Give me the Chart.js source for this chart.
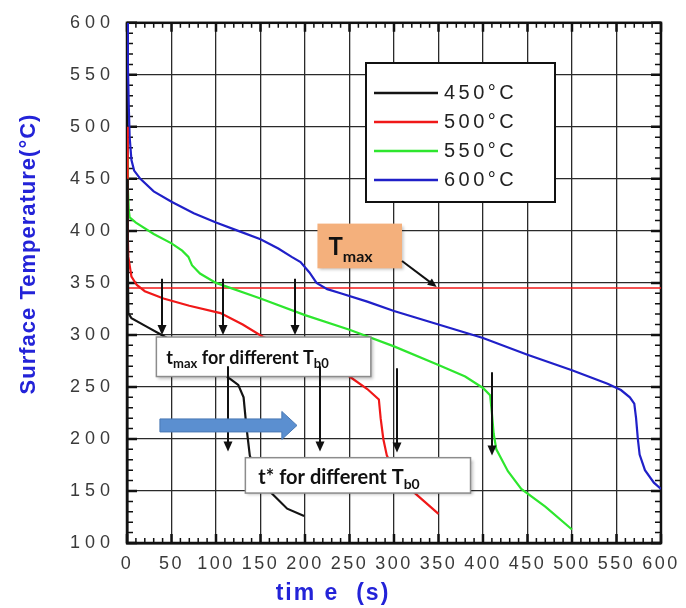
<!DOCTYPE html>
<html>
<head>
<meta charset="utf-8">
<script src="https://cdn.jsdelivr.net/npm/chart.js@4.4.1/dist/chart.umd.min.js"></script>
<style>
  html,body{margin:0;padding:0;background:#fff;}
  canvas{display:block;}
</style>
</head>
<body>
<canvas id="c" width="686" height="608"></canvas>
<script>
// series labels / colours
const SERIES = ['450°C', '500°C', '550°C', '600°C'];
const COLORS = ['#141414', '#f01818', '#2ee62e', '#2020c8'];

// cooling curves (time s, surface temperature °C)
const T450_X = [0, 0.8, 1.5, 5, 22, 39, 60, 90, 114, 125, 131, 134, 138, 145, 160, 180, 199];
const T450_Y = [450, 380, 321, 316, 308, 300, 290, 274, 259, 252, 240, 213, 184, 166, 150, 133, 126];

const T500_X = [0, 0.5, 1, 1.5, 5, 11, 20, 41, 70, 105, 130, 153, 200, 230, 250, 270, 283, 285, 288, 292, 300, 318, 334, 350];
const T500_Y = [500, 450, 400, 375, 356, 348, 342, 335, 328, 321, 310, 298, 282, 270, 260, 248, 238, 220, 200, 184, 170, 152, 140, 128];

const T550_X = [0, 1, 2, 3, 10, 30, 50, 62, 69, 73, 82, 100, 150, 200, 250, 300, 350, 380, 400, 408, 410, 412, 415, 428, 443, 470, 500];
const T550_Y = [470, 440, 420, 413, 408, 397, 388, 381, 375, 367, 359, 350, 335, 319, 305, 289, 271, 260, 249, 242, 225, 205, 190, 169, 152, 135, 113];

const T600_X = [0, 1, 2, 3, 5, 8, 15, 30, 50, 75, 100, 125, 150, 170, 185, 195, 205, 213, 225, 240, 270, 300, 350, 400, 450, 500, 540, 555, 565, 570, 572, 574, 576, 582, 592, 600];
const T600_Y = [600, 560, 520, 490, 468, 458, 450, 438, 428, 417, 408, 400, 392, 383, 375, 370, 360, 350, 344, 340, 332, 323, 310, 297, 281, 266, 253, 247, 240, 234, 220, 200, 185, 170, 158, 152];

const TMAX = 345;

// axis ranges / ticks
const X_MIN = 0, X_MAX = 600, X_STEP = 50;
const Y_MIN = 100, Y_MAX = 600, Y_STEP = 50;
const MINOR = 10;

// annotation anchors in data units
const TMAX_ARROW_X = [39, 108, 189];     // t_max arrows, from 354 down to 300
const TSTAR_ARROW_X = [114, 217, 303, 410]; // t* arrows
const TSTAR_ARROW_Y = [[270, 188], [270, 188], [268, 187], [264, 184]];

const FONT = 'Arial, "Liberation Sans", sans-serif';
const NOTE_FONT = 'Lato, "Open Sans", sans-serif';
const BLUE_TXT = '#2323d8';

const XS = [T450_X, T500_X, T550_X, T600_X];
const YS = [T450_Y, T500_Y, T550_Y, T600_Y];

const datasets = SERIES.map((name, k) => ({
  label: name,
  data: XS[k].map((x, i) => ({ x, y: YS[k][i] })),
  borderColor: COLORS[k],
  borderWidth: 2.2,
  pointRadius: 0,
  tension: 0
}));
datasets.push({
  label: 'Tmax',
  data: [{ x: X_MIN, y: TMAX }, { x: X_MAX, y: TMAX }],
  borderColor: '#f01818',
  borderWidth: 1.5,
  pointRadius: 0
});

function arrowDown(ctx, x, y0, y1) {
  x = Math.round(x);
  ctx.beginPath(); ctx.moveTo(x, y0); ctx.lineTo(x, y1 - 8); ctx.stroke();
  ctx.beginPath(); ctx.moveTo(x - 4.5, y1 - 10); ctx.lineTo(x + 4.5, y1 - 10); ctx.lineTo(x, y1); ctx.closePath(); ctx.fill();
}

function richText(ctx, parts, x, y) {
  parts.forEach(p => {
    ctx.font = 'bold ' + p.size + 'px ' + NOTE_FONT;
    ctx.fillText(p.t, x, y + (p.dy || 0));
    x += ctx.measureText(p.t).width;
  });
}

function noteBox(ctx, l, t, r, b, fill, stroke) {
  ctx.save();
  ctx.shadowColor = 'rgba(0,0,0,0.25)';
  ctx.shadowOffsetX = 2; ctx.shadowOffsetY = 2; ctx.shadowBlur = 3;
  ctx.fillStyle = fill;
  ctx.fillRect(l, t, r - l, b - t);
  ctx.restore();
  if (stroke) {
    ctx.save();
    ctx.strokeStyle = stroke; ctx.lineWidth = 1.5;
    ctx.strokeRect(l, t, r - l, b - t);
    ctx.restore();
  }
}

// spaced-out tick digits like the original figure
function spaceLabels(scale, spacing) {
  if (scale._spaced) return;
  const orig = scale.drawLabels.bind(scale);
  scale.drawLabels = (area) => {
    const ctx = scale.ctx;
    const prev = ctx.letterSpacing;
    ctx.letterSpacing = spacing;
    orig(area);
    ctx.letterSpacing = prev;
  };
  scale._spaced = true;
}

const decor = {
  id: 'decor',
  afterLayout(chart) {
    spaceLabels(chart.scales.x, '2.5px');
    spaceLabels(chart.scales.y, '5px');
  },
  beforeDatasetsDraw(chart) {
    const ctx = chart.ctx, a = chart.chartArea;
    const sx = chart.scales.x, sy = chart.scales.y;
    ctx.save();
    ctx.strokeStyle = '#111';
    // minor / major inside ticks on all sides
    for (let v = X_MIN; v <= X_MAX; v += MINOR) {
      const p = sx.getPixelForValue(v), major = v % X_STEP === 0;
      ctx.lineWidth = major ? 2.5 : 1.5;
      const L = major ? 9 : 5;
      ctx.beginPath();
      ctx.moveTo(p, a.bottom); ctx.lineTo(p, a.bottom - L);
      ctx.moveTo(p, a.top); ctx.lineTo(p, a.top + L);
      ctx.stroke();
    }
    for (let v = Y_MIN; v <= Y_MAX; v += MINOR) {
      const p = sy.getPixelForValue(v), major = v % Y_STEP === 0;
      ctx.lineWidth = major ? 2.5 : 1.5;
      const L = major ? 10 : 6;
      ctx.beginPath();
      ctx.moveTo(a.left, p); ctx.lineTo(a.left + L, p);
      ctx.moveTo(a.right, p); ctx.lineTo(a.right - L, p);
      ctx.stroke();
    }
    ctx.lineWidth = 2.5;
    ctx.strokeRect(a.left, a.top, a.right - a.left, a.bottom - a.top);

    // axis titles
    ctx.fillStyle = BLUE_TXT;
    ctx.textBaseline = 'middle';
    ctx.textAlign = 'center';
    ctx.font = 'bold 23px ' + FONT;
    ctx.letterSpacing = '2px';
    ctx.fillText('tim e  (s)', 333, 594);
    ctx.save();
    ctx.translate(29, 254);
    ctx.rotate(-Math.PI / 2);
    ctx.font = 'bold 22px ' + FONT;
    ctx.letterSpacing = '1px';
    ctx.fillText('Surface Temperature(°C)', 0, 0);
    ctx.restore();
    ctx.restore();
  },
  afterDatasetsDraw(chart) {
    const ctx = chart.ctx;
    const sx = chart.scales.x, sy = chart.scales.y;
    const X = v => sx.getPixelForValue(v), Y = v => sy.getPixelForValue(v);
    ctx.save();
    ctx.letterSpacing = '0px';
    ctx.textAlign = 'left';
    ctx.textBaseline = 'alphabetic';

    // T_max label + arrow
    noteBox(ctx, X(214), Y(407), X(309), Y(364), '#f4b07c', null);
    ctx.fillStyle = '#111';
    richText(ctx, [{ t: 'T', size: 24 }, { t: 'max', size: 16, dy: 7 }], X(214) + 11, Y(407) + 31);
    ctx.strokeStyle = '#111'; ctx.fillStyle = '#111'; ctx.lineWidth = 2;
    const ax0 = X(309), ay0 = Y(371), ax1 = X(348), ay1 = Y(346);
    const ang = Math.atan2(ay1 - ay0, ax1 - ax0);
    ctx.beginPath(); ctx.moveTo(ax0, ay0); ctx.lineTo(ax1 - 7 * Math.cos(ang), ay1 - 7 * Math.sin(ang)); ctx.stroke();
    ctx.beginPath();
    ctx.moveTo(ax1, ay1);
    ctx.lineTo(ax1 - 9 * Math.cos(ang) + 4 * Math.sin(ang), ay1 - 9 * Math.sin(ang) - 4 * Math.cos(ang));
    ctx.lineTo(ax1 - 9 * Math.cos(ang) - 4 * Math.sin(ang), ay1 - 9 * Math.sin(ang) + 4 * Math.cos(ang));
    ctx.closePath(); ctx.fill();

    // t_max arrows
    ctx.lineWidth = 2;
    TMAX_ARROW_X.forEach(x => arrowDown(ctx, X(x), Y(354), Y(300)));

    // t_max box
    noteBox(ctx, X(33), Y(298), X(274), Y(260), '#fff', '#8c8c8c');
    ctx.fillStyle = '#111';
    richText(ctx, [{ t: 't', size: 18 }, { t: 'max', size: 13, dy: 4 }, { t: ' for different T', size: 18 }, { t: 'b0', size: 13, dy: 4 }], X(33) + 10, Y(298) + 27);

    // t* arrows
    ctx.strokeStyle = '#111'; ctx.fillStyle = '#111'; ctx.lineWidth = 2;
    TSTAR_ARROW_X.forEach((x, i) => arrowDown(ctx, X(x), Y(TSTAR_ARROW_Y[i][0]), Y(TSTAR_ARROW_Y[i][1])));

    // t* box
    noteBox(ctx, X(133), Y(182), X(386), Y(148), '#fff', '#8c8c8c');
    ctx.fillStyle = '#111';
    richText(ctx, [{ t: 't* for different T', size: 20 }, { t: 'b0', size: 14, dy: 5 }], X(133) + 13, Y(182) + 26);

    // big blue arrow
    const bx0 = X(37), bx1 = X(191), bh = X(174), bc = Y(213);
    ctx.fillStyle = '#5b8fd0';
    ctx.beginPath();
    ctx.moveTo(bx0, bc - 6.5); ctx.lineTo(bh, bc - 6.5); ctx.lineTo(bh, bc - 14);
    ctx.lineTo(bx1, bc); ctx.lineTo(bh, bc + 14); ctx.lineTo(bh, bc + 6.5); ctx.lineTo(bx0, bc + 6.5);
    ctx.closePath(); ctx.fill();
    ctx.strokeStyle = '#4a79b4'; ctx.lineWidth = 1; ctx.stroke();

    // legend
    const lx = 366, ly = 63, lw = 189, lh = 139;
    ctx.fillStyle = '#fff';
    ctx.fillRect(lx, ly, lw, lh);
    ctx.strokeStyle = '#111'; ctx.lineWidth = 2;
    ctx.strokeRect(lx, ly, lw, lh);
    ctx.font = '20px ' + FONT;
    ctx.letterSpacing = '3.5px';
    ctx.textBaseline = 'middle';
    chart.data.datasets.slice(0, SERIES.length).forEach((ds, i) => {
      const yy = 93 + i * 29;
      ctx.strokeStyle = ds.borderColor; ctx.lineWidth = 2.5;
      ctx.beginPath(); ctx.moveTo(374, yy); ctx.lineTo(438, yy); ctx.stroke();
      ctx.fillStyle = '#222';
      ctx.fillText(ds.label, 444, yy);
    });
    ctx.restore();
  }
};

new Chart(document.getElementById('c'), {
  type: 'line',
  data: { datasets },
  options: {
    responsive: false,
    animation: false,
    devicePixelRatio: 1,
    layout: { padding: { top: 20, right: 25, left: 0, bottom: 0 } },
    plugins: { legend: { display: false }, tooltip: { enabled: false } },
    scales: {
      x: {
        type: 'linear', min: X_MIN, max: X_MAX,
        ticks: { stepSize: X_STEP, autoSkip: false, maxRotation: 0, padding: 10, color: '#3a3a3a', font: { size: 18, family: FONT } },
        grid: { color: '#2a2a2a', lineWidth: 1.3, drawTicks: false },
        border: { display: true, color: '#111', width: 2.5 },
        afterFit(s) { s.height = 65; }
      },
      y: {
        type: 'linear', min: Y_MIN, max: Y_MAX,
        ticks: { stepSize: Y_STEP, autoSkip: false, padding: 12, color: '#3a3a3a', font: { size: 18, family: FONT } },
        grid: { color: '#2a2a2a', lineWidth: 1.3, drawTicks: false },
        border: { display: true, color: '#111', width: 2.5 },
        afterFit(s) { s.width = 127; }
      }
    }
  },
  plugins: [decor]
});
</script>
</body>
</html>
